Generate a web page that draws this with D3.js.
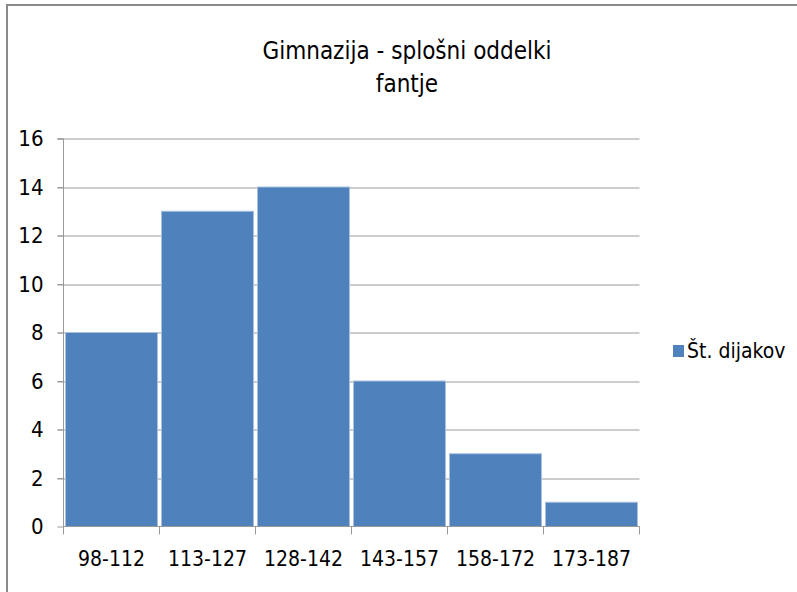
<!DOCTYPE html>
<html>
<head>
<meta charset="utf-8">
<script src="https://cdn.jsdelivr.net/npm/d3@7"></script>
<style>
  html, body { margin: 0; padding: 0; background: #fff; }
  svg text { font-family: "Liberation Sans Narrow", "DejaVu Sans Condensed", "Open Sans", sans-serif; fill: #000; }
</style>
</head>
<body>
<svg id="chart" width="797" height="592"></svg>
<script>
// chart data
const categories = ['98-112', '113-127', '128-142', '143-157', '158-172', '173-187'];
const counts = [8, 13, 14, 6, 3, 1];
const yTicks = [0, 2, 4, 6, 8, 10, 12, 14, 16];
const titleLines = ['Gimnazija - splošni oddelki', 'fantje'];
const seriesName = 'Št. dijakov';

// plot area
const margin = { top: 138.5, right: 157.5, bottom: 65.5, left: 63.5 };
const width = 797, height = 592;
const plotW = width - margin.left - margin.right;
const plotH = height - margin.top - margin.bottom;

const svg = d3.select('#chart');

// outer chart frame (runs past the right/bottom edge like the screenshot)
svg.append('rect')
    .attr('x', 7).attr('y', 5)
    .attr('width', 820).attr('height', 620)
    .attr('fill', '#fff')
    .attr('stroke', '#8a8a8a')
    .attr('stroke-width', 2);

// title
svg.append('text')
    .attr('x', 407).attr('y', 59)
    .attr('text-anchor', 'middle')
    .attr('font-size', 24)
    .attr('font-weight', 500)
    .selectAll('tspan')
    .data(titleLines)
    .join('tspan')
    .attr('x', 407)
    .attr('dy', (d, i) => i === 0 ? 0 : 33)
    .text(d => d);

const g = svg.append('g')
    .attr('transform', `translate(${margin.left},${margin.top})`);

const x = d3.scaleBand()
    .domain(categories)
    .range([0, plotW])
    .paddingInner(0).paddingOuter(0);

const y = d3.scaleLinear()
    .domain([0, 16])
    .range([plotH, 0]);

// gridlines
g.append('g')
    .selectAll('line')
    .data(yTicks.filter(d => d > 0))
    .join('line')
    .attr('x1', -6).attr('x2', plotW)
    .attr('y1', d => Math.round(y(d)) + 0.5)
    .attr('y2', d => Math.round(y(d)) + 0.5)
    .attr('stroke', '#9a9a9a')
    .attr('stroke-width', 1);

// bars
g.append('g')
    .selectAll('rect')
    .data(counts)
    .join('rect')
    .attr('x', (d, i) => x(categories[i]) + 2)
    .attr('y', d => y(d))
    .attr('width', x.bandwidth() - 4)
    .attr('height', d => plotH - y(d))
    .attr('fill', '#4f81bd')
    .attr('stroke', '#a9c0de')
    .attr('stroke-width', 1);

// y axis
const yAxis = g.append('g')
    .call(d3.axisLeft(y).tickValues(yTicks).tickSize(6).tickPadding(14).tickFormat(d3.format('d')));
yAxis.select('.domain').attr('stroke', '#9a9a9a').attr('d', `M-6,0.5H0V${plotH}`);
yAxis.selectAll('.tick line').attr('stroke', '#9a9a9a');
yAxis.selectAll('.tick text')
    .attr('font-size', 22)
    .attr('font-family', '"Liberation Sans Narrow", "DejaVu Sans Condensed", sans-serif')
    .attr('fill', '#000');

// x axis with ticks on category boundaries
const xAxis = g.append('g')
    .attr('transform', `translate(0,${plotH})`)
    .call(d3.axisBottom(x).tickSize(0).tickPadding(25));
xAxis.select('.domain').attr('stroke', '#9a9a9a').attr('d', `M0,0H${plotW}`);
xAxis.selectAll('.tick text')
    .attr('font-size', 21)
    .attr('font-family', '"Liberation Sans Narrow", "DejaVu Sans Condensed", sans-serif')
    .attr('fill', '#000');
xAxis.append('g')
    .selectAll('line')
    .data(d3.range(categories.length + 1))
    .join('line')
    .attr('x1', i => i * x.bandwidth())
    .attr('x2', i => i * x.bandwidth())
    .attr('y1', 0).attr('y2', 8)
    .attr('stroke', '#9a9a9a');

// legend
const legend = svg.append('g').attr('transform', 'translate(673,345)');
legend.append('rect')
    .attr('width', 11).attr('height', 12)
    .attr('fill', '#4f81bd');
legend.append('text')
    .attr('x', 14).attr('y', 13)
    .attr('font-size', 21)
    .text(seriesName);
</script>
</body>
</html>
